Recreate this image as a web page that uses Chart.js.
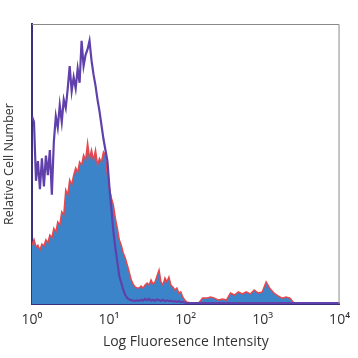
<!DOCTYPE html>
<html>
<head>
<meta charset="utf-8">
<script src="https://cdn.jsdelivr.net/npm/chart.js@4/dist/chart.umd.min.js"></script>
<style>
html,body{margin:0;padding:0;background:#fff;}
#wrap{width:358px;height:358px;}
</style>
</head>
<body>
<div id="wrap"><canvas id="c" width="358" height="358"></canvas></div>
<script>
// Log10 of fluorescence intensity (bin positions)
const logIntensity = [
0.000,0.026,0.052,0.077,0.103,0.129,0.155,0.181,0.206,0.232,
0.258,0.284,0.310,0.335,0.361,0.387,0.413,0.439,0.465,0.490,
0.516,0.542,0.568,0.594,0.619,0.645,0.671,0.697,0.723,0.748,
0.774,0.800,0.826,0.852,0.877,0.903,0.929,0.955,0.981,1.006,
1.032,1.058,1.084,1.110,1.135,1.161,1.187,1.213,1.239,1.265,
1.290,1.316,1.342,1.368,1.394,1.419,1.445,1.471,1.497,1.523,
1.548,1.574,1.600,1.626,1.652,1.677,1.703,1.729,1.755,1.781,
1.806,1.832,1.858,1.884,1.910,1.935,1.961,1.987,2.013,
2.065,2.116,2.168,2.219,2.271,2.323,2.374,2.426,2.477,2.529,
2.581,2.632,2.684,2.735,2.787,2.839,2.890,2.942,2.994,3.045,
3.097,3.148,3.200,3.252,3.303,3.355,3.406,3.458,4.000
];
// Isotype control (purple outline), relative counts
const controlCounts = [
67,65,44,51,41,52,42,53,46,55,
39,58,67,63,71,65,73,70,77,85,
76,81,77,84,79,94,85,89,91,94,
87,82,78,73,69,64,59,55,51,42,
34,26,20,15,10,7.5,5,3.2,2.1,1.6,
1.4,1.2,1.1,1.3,1.1,1.5,1.2,1.8,1.3,1.8,
1.2,1.5,1.1,1.6,1.4,1.1,1.5,1.0,1.3,1.0,
1.2,0.9,1.0,0.8,1.0,0.7,0.7,0.5,0.4,
0.3,0.3,0.3,0.3,0.3,0.3,0.3,0.3,0.3,0.3,
0.3,0.3,0.3,0.3,0.3,0.3,0.3,0.3,0.3,0.3,
0.3,0.3,0.3,0.3,0.3,0.3,0.3,0.3,0.3
];
// Stained sample (blue fill, red outline), relative counts
const stainedCounts = [
21,23,20.4,21,19.3,21.4,20.7,22.9,21.8,24.6,
23.6,27,25.7,29.3,28.2,32.9,31.8,40.7,38.9,44.3,
42.5,46,48.6,47,50.7,49.6,53.2,51.4,57.5,52,
55,51.4,55,49.6,52,50.7,54.3,53.2,46,41.4,
37.9,35.4,30.7,27,22.9,21,18.2,16.4,13.9,11.4,
8.6,7.1,6.1,5.7,5.7,6.4,5.7,6.8,7.5,6.8,
8.6,7.1,7.9,10,12.1,7.9,6.8,9.3,7.9,9.6,
6.8,6.1,5,5.7,3.9,4.3,2.5,1.4,0.7,
0.4,0.4,0.4,2.1,2.1,2.5,2.1,1.4,1.8,1.4,
3.9,3.2,4.3,3.6,4.3,3.6,5,3.9,4.3,7.9,
5.4,3.9,2.9,2.1,2.5,2.1,0.4,0,0
];
const xTickLabels = ['10\u2070','10\u00B9','10\u00B2','10\u00B3','10\u2074'];
const xTitle = 'Log Fluoresence Intensity';
const yTitle = 'Relative Cell Number';

const FONT = '"Open Sans", Lato, sans-serif';

const framePlugin = {
  id: 'frame',
  afterDraw(chart) {
    const {ctx, chartArea: a} = chart;
    ctx.save();
    ctx.strokeStyle = '#8a8a8a';
    ctx.lineWidth = 1;
    ctx.beginPath();
    ctx.moveTo(a.left, a.top + 0.5);
    ctx.lineTo(a.right - 0.5, a.top + 0.5);
    ctx.lineTo(a.right - 0.5, a.bottom);
    ctx.stroke();
    ctx.restore();
  }
};

const toPts = (vals) => vals.map((v, i) => ({x: logIntensity[i], y: v}));

new Chart(document.getElementById('c'), {
  type: 'line',
  data: {
    datasets: [
      {
        label: 'Control',
        data: toPts(controlCounts),
        borderColor: '#6040aa',
        borderWidth: 2.2,
        pointRadius: 0,
        fill: false,
        tension: 0
      },
      {
        label: 'Stained',
        data: toPts(stainedCounts),
        borderColor: '#e5484f',
        borderWidth: 1.5,
        backgroundColor: '#3b84c9',
        pointRadius: 0,
        fill: 'origin',
        tension: 0
      }
    ]
  },
  options: {
    responsive: false,
    animation: false,
    devicePixelRatio: 1,
    layout: {padding: {left: 0, top: 24, right: 16, bottom: 0}},
    plugins: {legend: {display: false}, tooltip: {enabled: false}},
    scales: {
      x: {
        type: 'linear',
        min: 0, max: 4,
        grid: {display: false, drawTicks: false},
        border: {display: true, color: '#3a2f7a', width: 2},
        afterBuildTicks: (s) => { s.ticks = [0,1,2,3,4].map(v => ({value: v})); },
        ticks: {
          autoSkip: false,
          maxRotation: 0,
          padding: 8,
          color: '#333',
          font: {family: FONT, size: 14},
          callback: (v) => xTickLabels[v]
        },
        title: {
          display: true,
          text: xTitle,
          color: '#333',
          font: {family: FONT, size: 14},
          padding: {top: 0, bottom: 8}
        },
        afterFit: (s) => { s.height = 54; }
      },
      y: {
        type: 'linear',
        min: 0, max: 100,
        grid: {display: false, drawTicks: false},
        border: {display: true, color: '#3a2f7a', width: 2},
        ticks: {display: false},
        title: {
          display: true,
          text: yTitle,
          color: '#333',
          font: {family: FONT, size: 12.5},
          padding: {top: 2, bottom: 0}
        },
        afterFit: (s) => { s.width = 32; }
      }
    }
  },
  plugins: [framePlugin]
});
</script>
</body>
</html>
